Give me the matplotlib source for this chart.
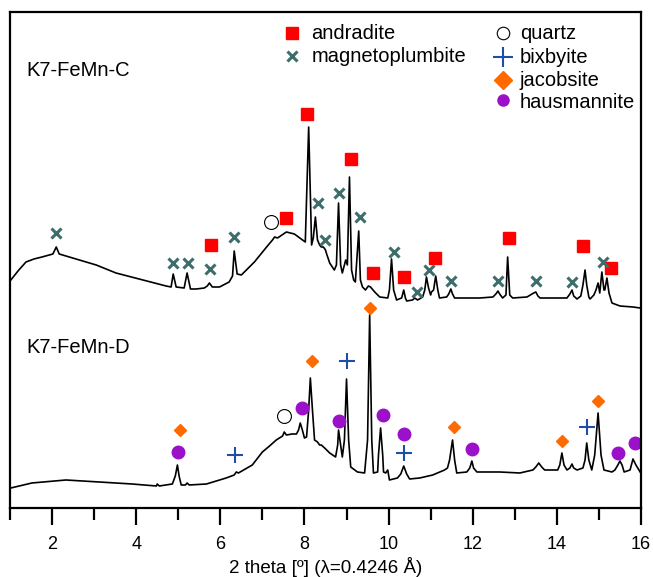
import matplotlib.pyplot as plt
from matplotlib.ticker import MultipleLocator

plt.rcParams['font.family'] = ['Liberation Sans', 'DejaVu Sans']

# sample C (upper trace), 2 theta and intensity
tth_c = [1.02, 1.21, 1.38, 1.57, 1.76, 1.93, 2.02, 2.10, 2.17, 2.57, 3.05, 3.52, 4.07, 4.71,
         4.83, 4.88, 4.95, 5.14, 5.21, 5.29, 5.43, 5.62, 5.69, 5.74, 5.81, 5.98, 6.21, 6.29,
         6.33, 6.40, 6.50, 6.62, 6.81, 7.10, 7.24, 7.29, 7.36, 7.57, 7.76, 8.02, 8.10, 8.17,
         8.21, 8.26, 8.31, 8.36, 8.40, 8.45, 8.50, 8.52, 8.60, 8.71, 8.76, 8.81, 8.86, 8.90,
         8.98, 9.02, 9.07, 9.12, 9.17, 9.21, 9.29, 9.33, 9.38, 9.45, 9.52, 9.57, 9.67, 9.79,
         9.98, 10.02, 10.07, 10.12, 10.19, 10.31, 10.36, 10.40, 10.43, 10.57, 10.62, 10.69,
         10.81, 10.86, 10.90, 10.95, 11.00, 11.02, 11.07, 11.12, 11.17, 11.21, 11.38, 11.43,
         11.48, 11.52, 11.57, 11.81, 12.17, 12.48, 12.55, 12.60, 12.64, 12.71, 12.79, 12.83,
         12.88, 12.95, 13.29, 13.45, 13.50, 13.55, 13.60, 14.24, 14.31, 14.36, 14.40, 14.48,
         14.57, 14.62, 14.67, 14.71, 14.76, 14.79, 14.88, 14.93, 14.98, 15.02, 15.07, 15.12,
         15.14, 15.19, 15.24, 15.31, 15.50, 15.81, 15.98]
int_c = [228, 238, 246, 249, 251, 253, 254, 261, 254, 249, 243, 235, 229, 222,
         221, 234, 221, 220, 235, 219, 219, 220, 222, 225, 221, 221, 226, 232,
         257, 234, 233, 238, 246, 261, 268, 271, 270, 276, 274, 266, 381, 263,
         270, 291, 268, 263, 261, 261, 258, 255, 245, 238, 243, 305, 243, 235,
         248, 243, 331, 238, 228, 226, 277, 228, 221, 218, 222, 221, 216, 211,
         210, 218, 249, 218, 208, 210, 218, 210, 207, 208, 210, 208,
         211, 218, 231, 220, 213, 216, 218, 232, 218, 210, 211, 214,
         219, 214, 210, 210, 210, 211, 214, 217, 214, 210, 213, 251,
         213, 210, 211, 215, 216, 212, 210, 210, 214, 218, 212, 209,
         212, 223, 238, 223, 211, 209, 213, 218, 225, 215, 236, 218,
         218, 230, 215, 205, 202, 201, 200]

# sample D (lower trace)
tth_d = [1.02, 1.52, 2.33, 3.12, 3.90, 4.48, 4.50, 4.55, 4.86, 4.93, 4.98, 5.02, 5.07, 5.17,
         5.21, 5.26, 5.67, 6.14, 6.33, 6.38, 6.43, 6.76, 7.00, 7.17, 7.33, 7.48, 7.52, 7.57,
         7.71, 7.81, 7.86, 7.90, 7.95, 8.00, 8.05, 8.10, 8.14, 8.19, 8.24, 8.31, 8.36, 8.40,
         8.48, 8.60, 8.74, 8.79, 8.81, 8.86, 8.90, 8.95, 9.00, 9.05, 9.10, 9.26, 9.43, 9.50,
         9.55, 9.60, 9.64, 9.74, 9.76, 9.81, 9.86, 9.88, 9.93, 9.98, 10.02, 10.21, 10.29,
         10.36, 10.43, 10.50, 10.74, 11.05, 11.33, 11.40, 11.45, 11.52, 11.57, 11.62, 11.86,
         11.93, 11.98, 12.02, 12.10, 12.64, 13.12, 13.43, 13.50, 13.57, 13.64, 13.71, 14.02,
         14.07, 14.12, 14.17, 14.24, 14.31, 14.36, 14.40, 14.48, 14.62, 14.67, 14.71, 14.76,
         14.83, 14.90, 14.98, 15.05, 15.12, 15.31, 15.38, 15.45, 15.50, 15.55, 15.60, 15.74,
         15.81, 15.88, 15.98]
int_d = [20, 25, 28, 26, 24, 22, 24, 22, 24, 32, 43, 32, 23, 23,
         25, 23, 24, 30, 33, 36, 35, 43, 56, 62, 68, 72, 76, 73,
         74, 74, 78, 85, 78, 70, 71, 98, 130, 98, 68, 66, 63, 63,
         60, 55, 51, 63, 78, 63, 51, 68, 129, 68, 41, 36, 35, 68,
         193, 68, 35, 36, 53, 80, 53, 36, 35, 38, 28, 30, 34,
         42, 34, 29, 30, 33, 38, 40, 48, 68, 48, 35, 36,
         40, 47, 40, 36, 36, 35, 38, 41, 45, 41, 38, 38,
         43, 55, 43, 38, 40, 44, 40, 38, 40, 48, 65, 48,
         38, 53, 95, 53, 38, 36, 38, 43, 47, 43, 36, 38,
         49, 43, 36]

# phase markers
andr_x = [5.79, 7.57, 8.05, 9.10, 9.62, 10.36, 11.10, 12.86, 14.62, 15.29]
andr_y = [263, 290, 394, 349, 235, 231, 250, 270, 262, 240]
magn_x = [2.10, 4.88, 5.24, 5.76, 6.33, 8.33, 8.48, 8.83, 9.33, 10.12, 10.67, 10.95, 11.48,
          12.60, 13.50, 14.36, 15.10]
magn_y = [275, 245, 245, 239, 271, 305, 268, 315, 291, 256, 216, 238, 227, 227, 227, 226, 246]
qtz_x = [7.21, 7.52]
qtz_y = [286, 92]
jac_x = [5.05, 8.17, 9.55, 11.55, 14.12, 14.98]
jac_y = [78, 147, 200, 81, 67, 107]
haus_x = [5.00, 7.93, 8.81, 9.86, 10.36, 11.98, 15.45, 15.86]
haus_y = [56, 100, 87, 93, 74, 59, 55, 65]
bix_x = [6.36, 9.02, 10.36, 14.71]
bix_y = [53, 147, 55, 81]

red = '#ff0000'
teal = '#3d6e6c'
orange = '#ff6a00'
purple = '#9b10c9'
blue = '#1f4ea8'

fig = plt.figure(figsize=(6.53, 5.77), dpi=100)
ax = fig.add_axes([0.0153, 0.1196, 0.9663, 0.8596])

ax.plot(tth_c, int_c, color='black', lw=1.2)
ax.plot(tth_d, int_d, color='black', lw=1.2)

ax.plot(andr_x, andr_y, 's', color=red, ms=8.5, ls='none')
ax.plot(magn_x, magn_y, 'x', color=teal, ms=7.5, mew=2.2, ls='none')
ax.plot(qtz_x, qtz_y, 'o', mfc='white', mec='black', ms=10, mew=0.8, ls='none')
ax.plot(jac_x, jac_y, 'D', color=orange, ms=6, ls='none')
ax.plot(haus_x, haus_y, 'o', color=purple, ms=9, ls='none')
ax.plot(bix_x, bix_y, '+', color=blue, ms=12, mew=1.5, ls='none')

# legend, drawn by hand
fs = 14.5
ax.plot([7.71], [475], 's', color=red, ms=9)
ax.text(8.17, 475, 'andradite', fontsize=fs, va='center')
ax.plot([7.71], [452], 'x', color=teal, ms=7, mew=2.2)
ax.text(8.17, 452, 'magnetoplumbite', fontsize=fs, va='center')
ax.plot([12.71], [475], 'o', mfc='white', mec='black', ms=9, mew=0.8)
ax.text(13.12, 475, 'quartz', fontsize=fs, va='center')
ax.plot([12.71], [451], '+', color=blue, ms=14, mew=1.5)
ax.text(13.12, 451, 'bixbyite', fontsize=fs, va='center')
ax.plot([12.71], [428], 'D', color=orange, ms=9)
ax.text(13.12, 428, 'jacobsite', fontsize=fs, va='center')
ax.plot([12.71], [408], 'o', color=purple, ms=8)
ax.text(13.12, 405, 'hausmannite', fontsize=fs, va='center')

ax.text(1.40, 438, 'K7-FeMn-C', fontsize=fs, va='center')
ax.text(1.40, 160, 'K7-FeMn-D', fontsize=fs, va='center')

ax.set_xlim(1, 16)
ax.set_ylim(0, 496)
ax.xaxis.set_major_locator(MultipleLocator(2))
ax.xaxis.set_minor_locator(MultipleLocator(1))
ax.tick_params(axis='x', which='major', direction='out', length=12, width=1.6,
               labelsize=13, pad=8)
ax.tick_params(axis='x', which='minor', direction='out', length=8.5, width=1.6)
ax.set_yticks([])
for s in ax.spines.values():
    s.set_linewidth(1.6)
ax.set_xlabel('2 theta [º] (λ=0.4246 Å)', fontsize=13.5, labelpad=3)

fig.savefig('out.png', dpi=100)
